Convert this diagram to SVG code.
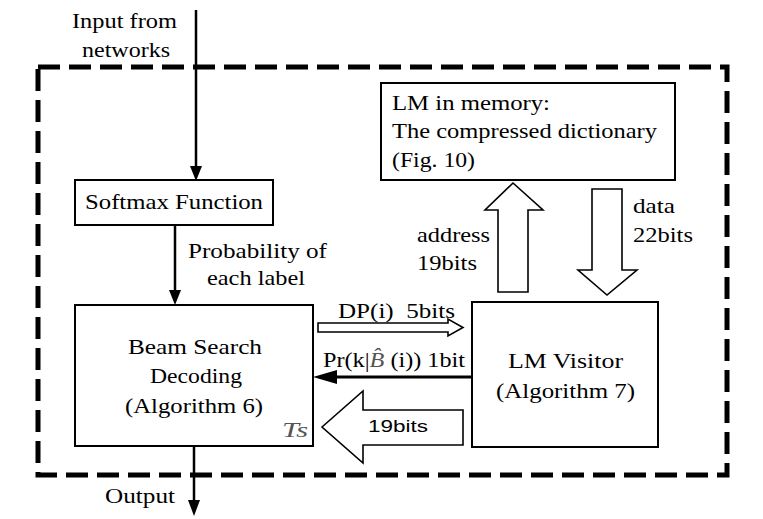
<svg xmlns="http://www.w3.org/2000/svg" width="763" height="519" viewBox="0 0 763 519">
<style>
text{font-family:"Liberation Serif","Times New Roman",serif;font-size:22px;fill:#000}
.box{fill:#fff;stroke:#000;stroke-width:2}
.blk{fill:#fff;stroke:#000;stroke-width:1.6;stroke-linejoin:miter}
.ln{stroke:#000;stroke-width:2.5;fill:none}
.sans{font-family:"Liberation Sans",Arial,sans-serif;font-size:17px}
</style>
<rect width="763" height="519" fill="#fff"/>
<rect id="boundary" x="38" y="67" width="689" height="408" fill="none" stroke="#000" stroke-width="5" stroke-dasharray="22 9"/>

<g id="connectors">
  <line class="ln" x1="196" y1="10" x2="196" y2="168"/>
  <polygon points="196,181 190,166 202,166"/>
  <line class="ln" x1="175" y1="225" x2="175" y2="292"/>
  <polygon points="175,305 169,290 181,290"/>
  <line class="ln" x1="194" y1="446" x2="194" y2="502"/>
  <polygon points="194,516 188,500 200,500"/>
  <path class="blk" d="M513,183 L543,210 L528,210 L528,292 L498,292 L498,210 L485,210 Z"/>
  <path class="blk" d="M592,189 L622,189 L622,270 L637,270 L607,295 L578,270 L592,270 Z"/>
  <path class="blk" d="M318,323 L448,323 L448,319 L463,327.5 L448,336 L448,332 L318,332 Z" stroke-width="1.3"/>
  <line x1="472" y1="377" x2="335" y2="377" stroke="#000" stroke-width="3"/>
  <polygon points="313,377 337,370 337,384"/>
  <path class="blk" d="M322,427 L363,391 L363,410 L463,410 L463,445 L363,445 L363,463 Z"/>
</g>

<g id="softmax">
  <rect class="box" x="75" y="180" width="198" height="45"/>
  <text x="85" y="209" textLength="178" lengthAdjust="spacingAndGlyphs">Softmax Function</text>
</g>
<g id="beam">
  <rect class="box" x="75" y="305" width="238" height="141"/>
  <text x="128" y="354" textLength="134" lengthAdjust="spacingAndGlyphs">Beam Search</text>
  <text x="150" y="383" textLength="92" lengthAdjust="spacingAndGlyphs">Decoding</text>
  <text x="125" y="413" textLength="138" lengthAdjust="spacingAndGlyphs">(Algorithm 6)</text>
  <text x="282" y="437" font-style="italic" style="fill:#555" textLength="26" lengthAdjust="spacingAndGlyphs">Ts</text>
</g>
<g id="lmmemory">
  <rect class="box" x="381" y="83" width="294" height="97"/>
  <text x="392" y="110" textLength="158" lengthAdjust="spacingAndGlyphs">LM in memory:</text>
  <text x="392" y="138" textLength="265" lengthAdjust="spacingAndGlyphs">The compressed dictionary</text>
  <text x="392" y="167" textLength="83" lengthAdjust="spacingAndGlyphs">(Fig. 10)</text>
</g>
<g id="lmvisitor">
  <rect class="box" x="472" y="302" width="186" height="145"/>
  <text x="508" y="368" textLength="115" lengthAdjust="spacingAndGlyphs">LM Visitor</text>
  <text x="496" y="398" textLength="139" lengthAdjust="spacingAndGlyphs">(Algorithm 7)</text>
</g>

<g id="labels">
  <text x="72" y="28" textLength="105" lengthAdjust="spacingAndGlyphs">Input from</text>
  <text x="82" y="57" textLength="88" lengthAdjust="spacingAndGlyphs">networks</text>
  <text x="188" y="258" textLength="139" lengthAdjust="spacingAndGlyphs">Probability of</text>
  <text x="207" y="285" textLength="98" lengthAdjust="spacingAndGlyphs">each label</text>
  <text x="417" y="242" textLength="73" lengthAdjust="spacingAndGlyphs">address</text>
  <text x="417" y="270" textLength="60" lengthAdjust="spacingAndGlyphs">19bits</text>
  <text x="633" y="213" textLength="42" lengthAdjust="spacingAndGlyphs">data</text>
  <text x="633" y="242" textLength="60" lengthAdjust="spacingAndGlyphs">22bits</text>
  <text x="338" y="318" textLength="117" lengthAdjust="spacingAndGlyphs" xml:space="preserve">DP(i)  5bits</text>
  <text x="323" y="367" textLength="142" lengthAdjust="spacingAndGlyphs">Pr(k|<tspan font-style="italic" style="fill:#555">B̂</tspan> (i)) 1bit</text>
  <text class="sans" x="368" y="432" textLength="60" lengthAdjust="spacingAndGlyphs">19bits</text>
  <text x="105" y="503" textLength="70" lengthAdjust="spacingAndGlyphs">Output</text>
</g>
</svg>
